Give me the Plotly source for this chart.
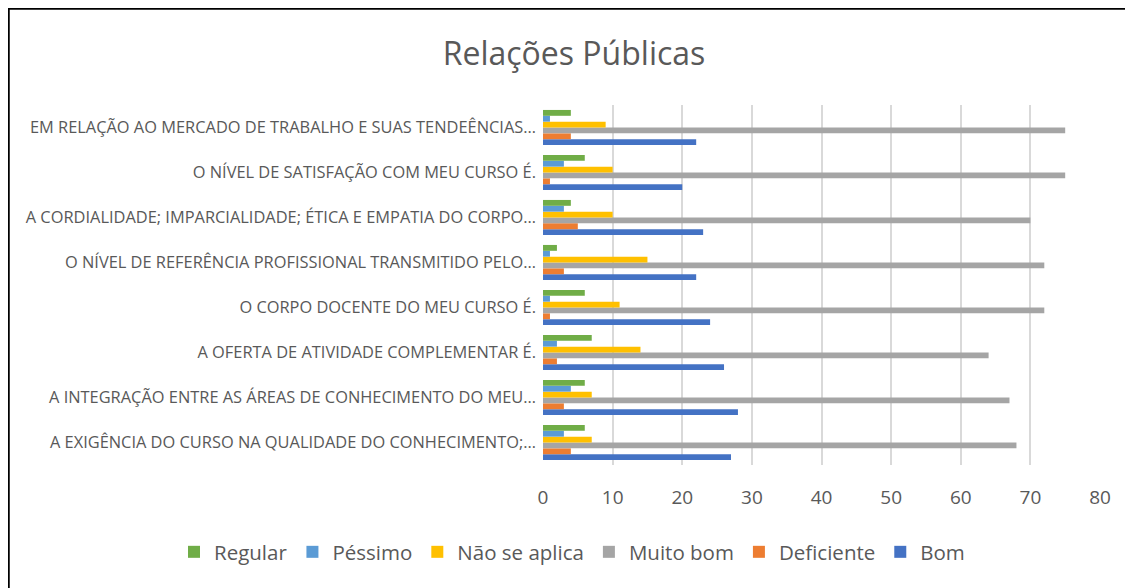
import plotly.graph_objects as go

categories = [
    "A EXIGÊNCIA DO CURSO NA QUALIDADE DO CONHECIMENTO;…",
    "A INTEGRAÇÃO ENTRE AS ÁREAS DE CONHECIMENTO DO MEU…",
    "A OFERTA DE ATIVIDADE COMPLEMENTAR É.",
    "O CORPO DOCENTE DO MEU CURSO É.",
    "O NÍVEL DE REFERÊNCIA PROFISSIONAL TRANSMITIDO PELO…",
    "A CORDIALIDADE; IMPARCIALIDADE; ÉTICA E EMPATIA DO CORPO…",
    "O NÍVEL DE SATISFAÇÃO COM MEU CURSO É.",
    "EM RELAÇÃO AO MERCADO DE TRABALHO E SUAS TENDEÊNCIAS…",
]

bom = [27, 28, 26, 24, 22, 23, 20, 22]
deficiente = [4, 3, 2, 1, 3, 5, 1, 4]
muito_bom = [68, 67, 64, 72, 72, 70, 75, 75]
nao_se_aplica = [7, 7, 14, 11, 15, 10, 10, 9]
pessimo = [3, 4, 2, 1, 1, 3, 3, 1]
regular = [6, 6, 7, 6, 2, 4, 6, 4]

series = [
    ("Bom", bom, "#4472C4"),
    ("Deficiente", deficiente, "#ED7D31"),
    ("Muito bom", muito_bom, "#A5A5A5"),
    ("Não se aplica", nao_se_aplica, "#FFC000"),
    ("Péssimo", pessimo, "#5B9BD5"),
    ("Regular", regular, "#70AD47"),
]

fig = go.Figure()
for name, vals, color in series:
    fig.add_trace(go.Bar(
        y=categories, x=vals, name=name, orientation="h",
        marker=dict(color=color, line=dict(width=0)),
    ))

# page body has an 8px margin: figure origin is at (8, 8) in the screenshot
OX, OY = 8, 8
W, H = 1125, 580
L = 543 - OX
R = W - (1100 - OX)
T = 105 - OY
B = H - (465 - OY)
pw, ph = W - L - R, H - T - B

def px_x(p):
    return (p - OX - L) / pw

def px_y(p):
    return (H - B - (p - OY)) / ph

fig.update_layout(
    width=W, height=H,
    margin=dict(l=L, r=R, t=T, b=B, autoexpand=False),
    paper_bgcolor="white", plot_bgcolor="white",
    barmode="group", bargap=0.22, bargroupgap=0.0,
    font=dict(family="Open Sans", color="#595959"),
    title=dict(text="Relações Públicas", x=(574 - OX) / W, xref="container", xanchor="center",
               y=1 - (54 - OY) / H, yref="container", yanchor="middle",
               font=dict(size=32, color="#595959", family="Open Sans")),
    xaxis=dict(range=[0, 80], dtick=10, showgrid=True, gridcolor="#d9d9d9", gridwidth=1.5,
               zeroline=False, showline=False, ticks="",
               tickfont=dict(size=19, color="#595959"), ticklabelstandoff=19),
    yaxis=dict(showgrid=False, zeroline=False, showline=False, ticks="",
               tickfont=dict(size=16.4, color="#595959"), ticklabelstandoff=6),
    legend=dict(orientation="h", traceorder="reversed",
                xref="paper", x=px_x(174), xanchor="left",
                yref="paper", y=px_y(552), yanchor="middle",
                font=dict(size=20.5, color="#595959"), itemwidth=30),
    showlegend=True,
    shapes=[
        dict(type="line", xref="paper", yref="paper",
             x0=px_x(OX), x1=px_x(OX + W), y0=px_y(OY + 0.5), y1=px_y(OY + 0.5),
             line=dict(color="black", width=2.5)),
        dict(type="line", xref="paper", yref="paper",
             x0=px_x(OX + 0.5), x1=px_x(OX + 0.5), y0=px_y(OY), y1=px_y(OY + H),
             line=dict(color="black", width=2.5)),
    ],
)

fig.write_html("out.html")
